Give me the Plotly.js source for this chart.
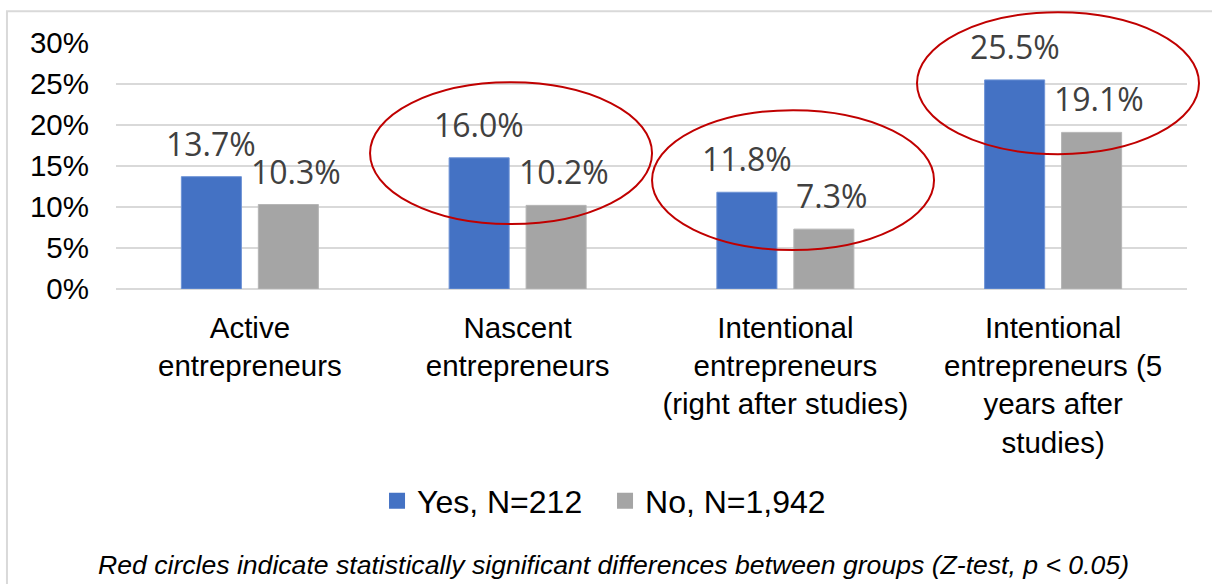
<!DOCTYPE html>
<html>
<head>
<meta charset="utf-8">
<script src="https://cdn.plot.ly/plotly-3.0.1.min.js"></script>
<style>html,body{margin:0;padding:0;background:#fff;}#chart{width:1212px;height:584px;}</style>
</head>
<body>
<div id="chart"></div>
<script>
const categories = [
  "Active<br>entrepreneurs",
  "Nascent<br>entrepreneurs",
  "Intentional<br>entrepreneurs<br>(right after studies)",
  "Intentional<br>entrepreneurs (5<br>years after<br>studies)"
];
const yesValues = [0.137, 0.160, 0.118, 0.255];
const noValues = [0.103, 0.102, 0.073, 0.191];
const seriesNames = ["Yes, N=212", "No, N=1,942"];
const seriesColors = ["#4472c4", "#a5a5a5"];
const yTickVals = [0, 0.05, 0.10, 0.15, 0.20, 0.25, 0.30];
const yTickText = ["0%", "5%", "10%", "15%", "20%", "25%", "30%"];
const footnote = "Red circles indicate statistically significant differences between groups (Z-test, p < 0.05)";

const traces = [
  {type: "bar", name: seriesNames[0], x: categories, y: yesValues, showlegend: false,
   marker: {color: seriesColors[0], line: {color: "#6f94d6", width: 1}}, hoverinfo: "y"},
  {type: "bar", name: seriesNames[1], x: categories, y: noValues, showlegend: false,
   marker: {color: seriesColors[1], line: {color: "#b5b5b5", width: 1}}, hoverinfo: "y"}
];
// legend entries (square keys like the original)
seriesNames.forEach(function (nm, s) {
  traces.push({type: "scatter", mode: "markers", name: nm, x: [null], y: [null],
    marker: {symbol: "square", size: 17, color: seriesColors[s]}, hoverinfo: "skip"});
});

const annotations = [];
const labelFont = {family: "Open Sans, sans-serif", size: 32, color: "#404040"};
[yesValues, noValues].forEach(function (vals, s) {
  vals.forEach(function (v, i) {
    annotations.push({
      x: i, y: v, xref: "x", yref: "y",
      text: (v * 100).toFixed(1) + "%",
      showarrow: false, xanchor: "center", yanchor: "bottom",
      xshift: s === 0 ? -38.5 : 46, yshift: 10,
      font: labelFont
    });
  });
});
annotations.push({
  xref: "paper", yref: "paper", x: 0.4645, y: -1.1206,
  xanchor: "center", yanchor: "middle", showarrow: false,
  text: "<i>" + footnote + "</i>",
  font: {family: "Liberation Sans, Arial, sans-serif", size: 26.6, color: "#000"}
});

const ellipseLine = {color: "#c00000", width: 2};
const shapes = [
  {type: "rect", xref: "paper", yref: "paper", x0: -0.1018, x1: 1.03, y0: -1.3, y1: 1.1287,
   line: {color: "#d9d9d9", width: 2}, fillcolor: "rgba(0,0,0,0)", layer: "below"},
  {type: "circle", xref: "paper", yref: "paper", x0: 0.2372, x1: 0.5005, y0: 0.2639, y1: 0.8404, line: ellipseLine},
  {type: "circle", xref: "paper", yref: "paper", x0: 0.5005, x1: 0.7638, y0: 0.1583, y1: 0.7268, line: ellipseLine},
  {type: "circle", xref: "paper", yref: "paper", x0: 0.7479, x1: 1.0112, y0: 0.5481, y1: 1.1247, line: ellipseLine}
];

const layout = {
  width: 1212, height: 584,
  margin: {l: 116, r: 25, t: 42.7, b: 295},
  paper_bgcolor: "#fff", plot_bgcolor: "#fff",
  font: {family: "Liberation Sans, Arial, sans-serif", size: 29.5, color: "#000"},
  barmode: "group", bargap: 0.425, bargroupgap: 0.22,
  showlegend: true,
  legend: {orientation: "h", xref: "container", yref: "container", x: 0.4992, y: 1 - 501 / 584,
           xanchor: "center", yanchor: "middle", font: {size: 32, color: "#000"},
           entrywidth: 183, traceorder: "normal"},
  xaxis: {type: "category", range: [-0.5, 3.5], autorange: false, showgrid: false, zeroline: false,
          showline: false, ticks: "", tickangle: 0, automargin: false,
          ticklabelstandoff: 18, tickfont: {size: 29.5, color: "#000"}, fixedrange: true},
  yaxis: {range: [0, 0.3], autorange: false, tickvals: yTickVals, ticktext: yTickText, showgrid: true,
          gridcolor: "#d9d9d9", gridwidth: 2, zeroline: true, zerolinecolor: "#d9d9d9", zerolinewidth: 2,
          showline: false, ticks: "", automargin: false, ticklabelstandoff: 26,
          tickfont: {size: 29.5, color: "#000"}, fixedrange: true},
  annotations: annotations,
  shapes: shapes
};

Plotly.newPlot("chart", traces, layout, {displayModeBar: false, staticPlot: true});
</script>
</body>
</html>
